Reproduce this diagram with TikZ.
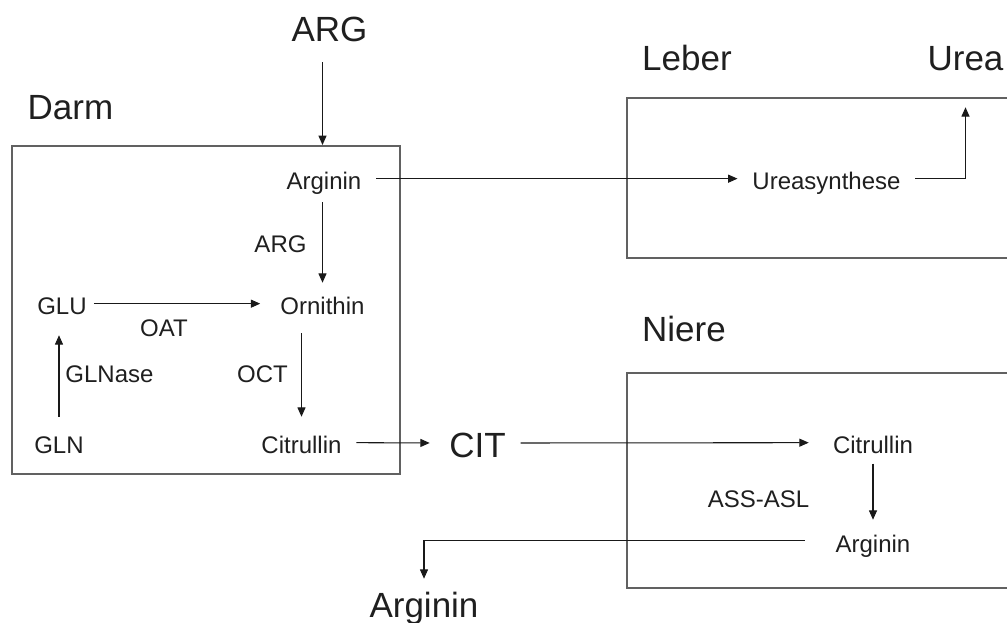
\documentclass[tikz,border=0pt]{standalone}
\usepackage{fontspec}
\setmainfont{Liberation Sans}
\usetikzlibrary{arrows.meta}
\begin{document}
\begin{tikzpicture}[x=0.75pt,y=-0.75pt,
  small/.style={font=\fontsize{18}{21}\selectfont, text height=17pt, text depth=0pt,
    inner xsep=11pt, inner ysep=7pt, anchor=base, text=black!88},
  big/.style={font=\fontsize{26.25}{30}\selectfont, text height=22.5pt, text depth=0pt,
    inner xsep=11pt, inner ysep=6pt, anchor=base, text=black!88},
  arr/.style={-{Triangle[length=7pt,width=6pt]}, line width=0.8pt, draw=black!90},
  organ/.style={draw=black!62, line width=1.5pt},
]
\useasboundingbox (0,0) rectangle (1007,623);

% organ boxes
\node[organ, minimum width=291pt, minimum height=246pt, inner sep=0pt] (darmbox) at (206,310) {};
\draw[organ] (1007,98) -- (627,98) -- (627,258) -- (1007,258);
\draw[organ] (1007,373) -- (627,373) -- (627,588) -- (1007,588);

% big labels
\node[big] (argtop) at (329.5,42) {ARG};
\node[big] (darm) at (70.5,120) {Darm};
\node[big] (leber) at (687,71) {Leber};
\node[big] (urea) at (965.5,71) {Urea};
\node[big] (niere) at (684,342) {Niere};
\node[big] (cit) at (477.5,458) {CIT};
\node[big] (argout) at (424,617) {Arginin};

% small labels
\node[small] (argD) at (324,190) {Arginin};
\node[small] (argE) at (280.5,253) {ARG};
\node[small] (orn) at (322.5,315) {Ornithin};
\node[small] (glu) at (62,315) {GLU};
\node[small] (oat) at (164,337) {OAT};
\node[small] (glnase) at (109.5,383) {GLNase};
\node[small] (oct) at (262.5,383) {OCT};
\node[small] (gln) at (59,454) {GLN};
\node[small] (citD) at (301.5,454) {Citrullin};
\node[small] (urs) at (826.5,190) {Ureasynthese};
\node[small] (citN) at (873,454) {Citrullin};
\node[small] (ass) at (758.5,508) {ASS-ASL};
\node[small] (argN) at (873,552) {Arginin};

% connectors
\draw[arr, shorten <=9pt] (argtop.south -| orn) -- (darmbox.north -| orn);
\draw[arr, shorten <=2pt] (argD.south -| orn) -- (orn.north);
\draw[arr, shorten <=-5.75pt, shorten >=4pt] (glu.east) -- (orn.west);
\draw[arr, shorten <=3.75pt, shorten >=8pt] (gln.north) -- (gln.north |- glu.south);
\draw[arr, shorten <=6.5pt, shorten >=3.75pt] (orn.south -| citD) -- (citD.north);
\draw[arr, shorten >=3.5pt] (citD.east) -- (cit.west);
\draw[arr, shorten >=7pt] (cit.east) -- (citN.west);
\draw[arr] (citN.south) -- (argN.north);
\draw[arr, shorten <=12pt] (argN.west) -| (argout.north);
\draw[arr] (argD.east) -- (urs.west);
\draw[arr, shorten >=21pt] (urs.east) -| (urea.south);
\end{tikzpicture}
\end{document}
